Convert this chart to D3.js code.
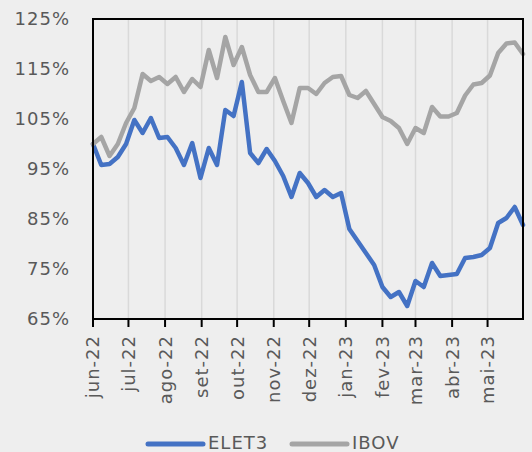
<!DOCTYPE html>
<html>
<head>
<meta charset="utf-8">
<script src="https://cdn.jsdelivr.net/npm/d3@7"></script>
<style>
  body { margin: 0; background: #eeeeee; }
  text { font-family: "DejaVu Sans", sans-serif; fill: #595959; }
</style>
</head>
<body>
<script>
// weekly points, starting 1 jun 2022
var startDate = new Date(2022, 5, 1);
var elet3 = [100, 95.8, 96, 97.4, 100, 104.8, 102.2, 105.2, 101.2, 101.4,
  99.2, 95.8, 100.2, 93.2, 99.2, 95.8, 106.8, 105.6, 112.4, 98.2,
  96.2, 99, 96.6, 93.6, 89.4, 94.2, 92.2, 89.4, 90.8, 89.4,
  90.2, 83, 80.6, 78.2, 75.8, 71.4, 69.4, 70.4, 67.6, 72.6,
  71.4, 76.2, 73.6, 73.8, 74, 77.2, 77.4, 77.8, 79.2, 84.2,
  85.2, 87.4, 83.8];
var ibov = [100, 101.4, 97.6, 100, 104.2, 107.2, 114, 112.6, 113.4, 112,
  113.4, 110.4, 113, 111.4, 118.8, 113.2, 121.4, 115.8, 119.4, 113.8,
  110.4, 110.4, 113.2, 108.6, 104.2, 111.2, 111.2, 110, 112.2, 113.4,
  113.6, 109.8, 109.2, 110.6, 108, 105.4, 104.6, 103.2, 100, 103.2,
  102.2, 107.4, 105.5, 105.5, 106.2, 109.7, 111.9, 112.2, 113.7, 118.2,
  120.1, 120.3, 118];
var yTicks = [65, 75, 85, 95, 105, 115, 125];
var monthNames = ["jan", "fev", "mar", "abr", "mai", "jun", "jul", "ago", "set", "out", "nov", "dez"];
var seriesNames = ["ELET3", "IBOV"];
var colors = ["#4472c4", "#a5a5a5"];

var W = 532, H = 452;
var margin = {top: 19, right: 9, bottom: 133, left: 93};
var width = W - margin.left - margin.right,
    height = H - margin.top - margin.bottom;

var dates = elet3.map(function(d, i) { return d3.timeDay.offset(startDate, i * 7); });

var svg = d3.select("body").append("svg")
    .attr("width", W)
    .attr("height", H);

var g = svg.append("g")
    .attr("transform", "translate(" + margin.left + "," + margin.top + ")");

var x = d3.scaleTime()
    .domain([dates[0], dates[dates.length - 1]])
    .range([0, width]);
var y = d3.scaleLinear()
    .domain([65, 125])
    .range([height, 0]);

var months = d3.timeMonth.range(startDate, dates[dates.length - 1]);

// vertical gridlines
g.selectAll(".grid")
  .data(months.slice(1))
  .enter().append("line")
    .attr("x1", function(d) { return x(d); })
    .attr("x2", function(d) { return x(d); })
    .attr("y1", 0)
    .attr("y2", height)
    .style("stroke", "#d9d9d9")
    .style("stroke-width", 1.5);

// y labels
g.selectAll(".ylab")
  .data(yTicks)
  .enter().append("text")
    .attr("x", -23)
    .attr("y", function(d) { return y(d); })
    .attr("dy", "0.36em")
    .attr("text-anchor", "end")
    .style("font-size", "18px")
    .style("letter-spacing", "1px")
    .text(function(d) { return d + "%"; });

// lines
var line = d3.line()
    .x(function(d, i) { return x(dates[i]); })
    .y(function(d) { return y(d); });

[elet3, ibov].forEach(function(s, k) {
  g.append("path")
    .datum(s)
    .attr("d", line)
    .style("fill", "none")
    .style("stroke", colors[k])
    .style("stroke-width", 4.5)
    .style("stroke-linejoin", "round")
    .style("stroke-linecap", "round");
});

// plot border
g.append("rect")
    .attr("width", width)
    .attr("height", height)
    .style("fill", "none")
    .style("stroke", "#000")
    .style("stroke-width", 2);

// x ticks
g.selectAll(".xtick")
  .data(months)
  .enter().append("line")
    .attr("x1", function(d) { return x(d); })
    .attr("x2", function(d) { return x(d); })
    .attr("y1", height)
    .attr("y2", height + 8)
    .style("stroke", "#000")
    .style("stroke-width", 2);

g.selectAll(".xlab")
  .data(months)
  .enter().append("text")
    .attr("transform", function(d) {
      return "translate(" + x(d) + "," + (height + 16) + ") rotate(-90)";
    })
    .attr("dy", "0.36em")
    .attr("text-anchor", "end")
    .style("font-size", "18px")
    .style("letter-spacing", "1px")
    .text(function(d) {
      return monthNames[d.getMonth()] + "-" + String(d.getFullYear()).slice(2);
    });

// legend
var legendX = [148, 292];
seriesNames.forEach(function(name, k) {
  svg.append("line")
    .attr("x1", legendX[k])
    .attr("x2", legendX[k] + 55)
    .attr("y1", 444)
    .attr("y2", 444)
    .style("stroke", colors[k])
    .style("stroke-width", 5)
    .style("stroke-linecap", "round");
  svg.append("text")
    .attr("x", legendX[k] + 60)
    .attr("y", 449)
    .style("font-size", "18px")
    .style("letter-spacing", "1px")
    .text(name);
});
</script>
</body>
</html>
